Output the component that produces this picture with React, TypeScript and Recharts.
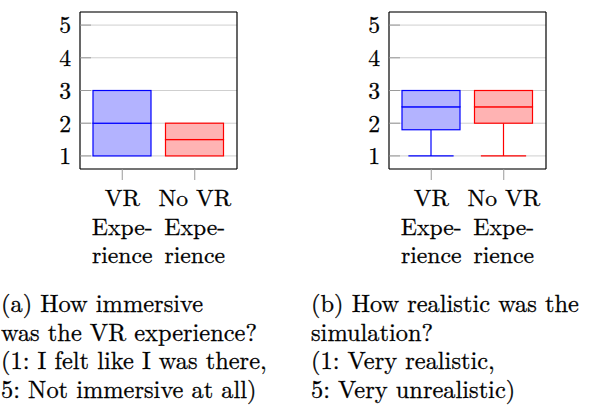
import { ComposedChart, Bar, XAxis, YAxis, CartesianGrid } from "recharts";

const FONT = "'Latin Modern Roman', 'Liberation Serif', serif";
const FS = 23.7;
const CAPTION_FS = 24.4;
// a hairline outline makes the thin Latin Modern glyphs look like the rasterised PDF
const TEXT_STROKE = { stroke: "#000", strokeWidth: 0.28 };

const categories = ["VR Experience", "No VR Experience"];
const categoryLines = [
  ["VR", "Expe-", "rience"],
  ["No VR", "Expe-", "rience"],
];
const yTicks = [1, 2, 3, 4, 5];

// (a) how immersive
const immersiveMin = [1, 1];
const immersiveQ1 = [1, 1];
const immersiveMedian = [2, 1.5];
const immersiveQ3 = [3, 2];
const immersiveMax = [3, 2];

// (b) how realistic
const realisticMin = [1, 1];
const realisticQ1 = [1.8, 2];
const realisticMedian = [2.5, 2.5];
const realisticQ3 = [3, 3];
const realisticMax = [3, 3];

const captionA = [
  "(a) How immersive",
  "was the VR experience?",
  "(1: I felt like I was there,",
  "5: Not immersive at all)",
];
const captionB = [
  "(b) How realistic was the",
  "simulation?",
  "(1: Very realistic,",
  "5: Very unrealistic)",
];

const BOX_COLORS = [
  { stroke: "#0000ff", fill: "#b3b3ff" },
  { stroke: "#ff0000", fill: "#ffb3b3" },
];

function buildRows(min: number[], q1: number[], med: number[], q3: number[], max: number[]) {
  return categories.map((name, i) => ({
    name,
    idx: i,
    base: min[i],
    lowWhisker: q1[i] - min[i],
    lowBox: med[i] - q1[i],
    highBox: q3[i] - med[i],
    highWhisker: max[i] - q3[i],
  }));
}

const rowsA = buildRows(immersiveMin, immersiveQ1, immersiveMedian, immersiveQ3, immersiveMax);
const rowsB = buildRows(realisticMin, realisticQ1, realisticMedian, realisticQ3, realisticMax);

function colorOf(props: any) {
  const i = props.payload?.idx ?? props.index ?? 0;
  return BOX_COLORS[i];
}

function norm(props: any) {
  const h = Math.abs(props.height ?? 0);
  const top = Math.min(props.y, props.y + (props.height ?? 0));
  return { x: props.x, w: props.width, top, h };
}

function BoxPart(props: any) {
  const { x, w, top, h } = norm(props);
  if (h < 0.5) return null;
  const c = colorOf(props);
  return <rect x={x} y={top} width={w} height={h} fill={c.fill} stroke={c.stroke} strokeWidth={1.2} />;
}

function LowWhisker(props: any) {
  const { x, w, top, h } = norm(props);
  if (h < 0.5) return null;
  const c = colorOf(props);
  const cx = x + w / 2;
  const half = w * 0.39;
  return (
    <g stroke={c.stroke} strokeWidth={1.2}>
      <line x1={cx} y1={top} x2={cx} y2={top + h} />
      <line x1={cx - half} y1={top + h} x2={cx + half} y2={top + h} />
    </g>
  );
}

function HighWhisker(props: any) {
  const { x, w, top, h } = norm(props);
  if (h < 0.5) return null;
  const c = colorOf(props);
  const cx = x + w / 2;
  const half = w * 0.39;
  return (
    <g stroke={c.stroke} strokeWidth={1.2}>
      <line x1={cx} y1={top} x2={cx} y2={top + h} />
      <line x1={cx - half} y1={top} x2={cx + half} y2={top} />
    </g>
  );
}

function CategoryTick(props: any) {
  const { x, y, index } = props;
  const lines = categoryLines[index] ?? [props.payload?.value];
  return (
    <g>
      {lines.map((s: string, i: number) => (
        <text
          key={i}
          x={x}
          y={y + 26 + i * 28.6}
          textAnchor="middle"
          fontFamily={FONT}
          fontSize={FS}
          fill="#000"
          {...TEXT_STROKE}
        >
          {s}
        </text>
      ))}
    </g>
  );
}

function BoxPanel({ rows }: { rows: ReturnType<typeof buildRows> }) {
  return (
    <ComposedChart
      width={300}
      height={280}
      data={rows}
      margin={{ top: 0, right: 60, bottom: 0, left: 40 }}
      barSize={58}
    >
      <CartesianGrid vertical={false} stroke="#cfcfcf" yAxisId="l" />
      <XAxis
        dataKey="name"
        xAxisId="b"
        orientation="bottom"
        height={111}
        padding={{ left: 6, right: 6 }}
        tickSize={11}
        tickMargin={0}
        tickLine={{ stroke: "#9a9a9a" }}
        axisLine={{ stroke: "#000", strokeWidth: 1.2 }}
        tick={<CategoryTick />}
        interval={0}
      />
      <XAxis
        dataKey="name"
        xAxisId="t"
        orientation="top"
        height={12}
        padding={{ left: 6, right: 6 }}
        tickSize={12}
        tickLine={{ stroke: "#9a9a9a" }}
        axisLine={{ stroke: "#000", strokeWidth: 1.2 }}
        tick={false}
        interval={0}
      />
      <YAxis
        yAxisId="l"
        type="number"
        domain={[0.6, 5.4]}
        allowDataOverflow
        ticks={yTicks}
        width={40}
        tickSize={-11}
        tickMargin={20}
        tickLine={{ stroke: "#9a9a9a" }}
        axisLine={{ stroke: "#000", strokeWidth: 1.2 }}
        tick={{ fontSize: FS, fill: "#000", fontFamily: FONT, ...TEXT_STROKE }}
      />
      <YAxis
        yAxisId="r"
        orientation="right"
        type="number"
        domain={[0.6, 5.4]}
        allowDataOverflow
        ticks={yTicks}
        width={3}
        tickSize={-11}
        tickLine={{ stroke: "#9a9a9a" }}
        axisLine={{ stroke: "#000", strokeWidth: 1.2 }}
        tick={false}
      />
      <Bar dataKey="base" stackId="box" xAxisId="b" yAxisId="l" fill="none" shape={() => null} isAnimationActive={false} />
      <Bar dataKey="lowWhisker" stackId="box" xAxisId="b" yAxisId="l" shape={<LowWhisker />} isAnimationActive={false} />
      <Bar dataKey="lowBox" stackId="box" xAxisId="b" yAxisId="l" shape={<BoxPart />} isAnimationActive={false} />
      <Bar dataKey="highBox" stackId="box" xAxisId="b" yAxisId="l" shape={<BoxPart />} isAnimationActive={false} />
      <Bar dataKey="highWhisker" stackId="box" xAxisId="b" yAxisId="l" shape={<HighWhisker />} isAnimationActive={false} />
    </ComposedChart>
  );
}

function Captions() {
  const baselines = [312, 340.6, 369.2, 397.8];
  return (
    <svg width={589} height={405} style={{ position: "absolute", left: 0, top: 0 }}>
      {captionA.map((s, i) => (
        <text key={"a" + i} x={1} y={baselines[i]} fontFamily={FONT} fontSize={CAPTION_FS} fill="#000" {...TEXT_STROKE}>
          {s}
        </text>
      ))}
      {captionB.map((s, i) => (
        <text key={"b" + i} x={311} y={baselines[i]} fontFamily={FONT} fontSize={CAPTION_FS} fill="#000" {...TEXT_STROKE}>
          {s}
        </text>
      ))}
    </svg>
  );
}

export default function App() {
  return (
    <div style={{ position: "absolute", left: 0, top: 0, width: 589, height: 405, background: "#fff" }}>
      <Captions />
      <div style={{ position: "absolute", left: 0, top: 0 }}>
        <BoxPanel rows={rowsA} />
      </div>
      <div style={{ position: "absolute", left: 309, top: 0 }}>
        <BoxPanel rows={rowsB} />
      </div>
    </div>
  );
}
